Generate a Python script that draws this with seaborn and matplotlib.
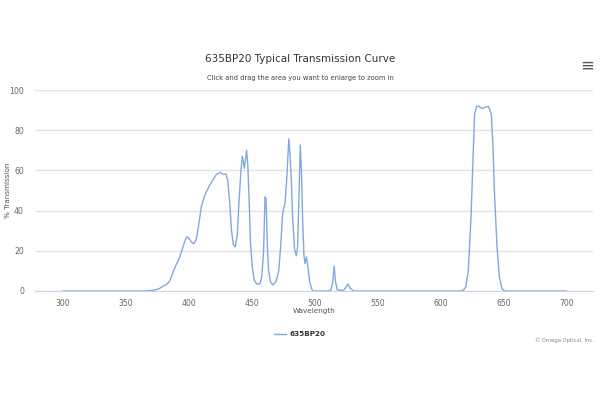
import matplotlib
matplotlib.use("Agg")
import pandas as pd
import seaborn as sns
import matplotlib.pyplot as plt

wavelength = [300, 350, 365, 370, 374, 377, 380, 383, 385, 388, 390.5, 393, 395, 397, 398.5,
              400, 402, 404, 406, 408, 410, 413, 417, 420, 422, 425, 427.5, 429.6, 431, 432.5,
              434, 435.5, 437, 438.6, 440, 441.5, 442.6, 443.5, 444.2, 445, 446, 447, 448, 449,
              450.5, 452, 454, 456.5, 458, 459.5, 460.6, 461.4, 462.5, 463.5, 465, 467, 469.5,
              471.5, 473, 474.6, 476.5, 477.8, 479.5, 480.5, 481.5, 482.5, 484, 485.5, 486.5,
              487.5, 488.6, 489.5, 490.5, 491.5, 492.3, 493.5, 494.5, 496, 497.6, 499, 510,
              513, 514.5, 515.5, 516.5, 518, 523, 525, 526.5, 528, 531, 615, 618, 620, 622,
              624.3, 625.6, 627, 628.5, 630, 633, 636, 638, 640.3, 641.6, 642.9, 644.8, 646.7,
              648.8, 651, 700]
transmission = [0, 0, 0, 0.2, 0.6, 1.3, 2.5, 3.5, 5, 10, 13.7, 17, 21, 25, 27,
                26.5, 24.5, 23.5, 25.5, 33, 41.8, 48, 53, 56, 58, 59, 58, 58.3, 55, 45,
                30, 23, 22, 28, 45, 60, 67, 64, 61, 65, 70, 62, 45, 25,
                12, 5.5, 3.5, 3.5, 7, 20, 46.8, 46, 22, 10, 4.5, 3, 5,
                10, 22, 38.5, 44, 55, 75.7, 68, 55, 37, 21, 17.5, 22,
                45, 72.7, 60, 35, 18, 13.6, 17, 13, 5, 1, 0, 0,
                0.5, 5, 12.5, 5, 0.5, 0.3, 2, 3.5, 1.5, 0, 0, 0.3, 2, 10,
                38.7, 63.5, 88, 91.8, 92, 90.8, 91.5, 91.8, 88, 71.5, 46.8, 22, 7,
                1, 0, 0]

df = pd.DataFrame({"Wavelength": wavelength, "Transmission": transmission})

sns.set_style("white")
plt.rcParams["font.family"] = ["DejaVu Sans"]

fig = plt.figure(figsize=(6, 4), dpi=100)
ax = fig.add_axes([35 / 600, 1 - 291 / 400, 558 / 600, 201 / 400])

sns.lineplot(data=df, x="Wavelength", y="Transmission", ax=ax, color="#82a8df",
             linewidth=1.0, label="635BP20")

ax.set_xlim(278, 721)
ax.set_ylim(0, 100)
ax.set_xticks(range(300, 701, 50))
ax.set_yticks(range(0, 101, 20))
ax.grid(axis="y", color="#e3e3e3", linewidth=1)
ax.set_axisbelow(True)
for s in ["top", "right", "left"]:
    ax.spines[s].set_visible(False)
ax.spines["bottom"].set_color("#ccd6eb")
ax.tick_params(axis="both", length=0, labelsize=5.6, labelcolor="#666666")
ax.tick_params(axis="x", pad=6)
ax.tick_params(axis="y", pad=8)
ax.set_xlabel("Wavelength", fontsize=5.2, color="#555555")
ax.xaxis.set_label_coords(0.5, -(311 - 291) / 201)
ax.set_ylabel("% Transmission", fontsize=5.2, color="#555555")
ax.yaxis.set_label_coords((8 - 35) / 558, 0.5)
ax.yaxis.label.set_verticalalignment("center")
ax.xaxis.label.set_verticalalignment("center")

leg = ax.legend(loc="center", bbox_to_anchor=(0.5, 1 - 334 / 400),
                bbox_transform=fig.transFigure, frameon=False, fontsize=5.2,
                handlelength=1.6, handletextpad=0.5)
for t in leg.get_texts():
    t.set_fontweight("bold")
    t.set_color("#333333")

fig.text(0.5, 1 - 59 / 400, "635BP20 Typical Transmission Curve", ha="center", va="center",
         fontsize=7.5, color="#333333")
fig.text(0.5, 1 - 78 / 400, "Click and drag the area you want to enlarge to zoom in",
         ha="center", va="center", fontsize=4.9, color="#444444")
fig.text(587 / 600, 1 - 66 / 400, "≡", ha="center", va="center", fontsize=12, color="#555555")
fig.text(594 / 600, 1 - 340 / 400, "© Omega Optical, Inc.", ha="right", va="center",
         fontsize=3.8, color="#888888")

fig.savefig("out.png", dpi=100, facecolor="white")
